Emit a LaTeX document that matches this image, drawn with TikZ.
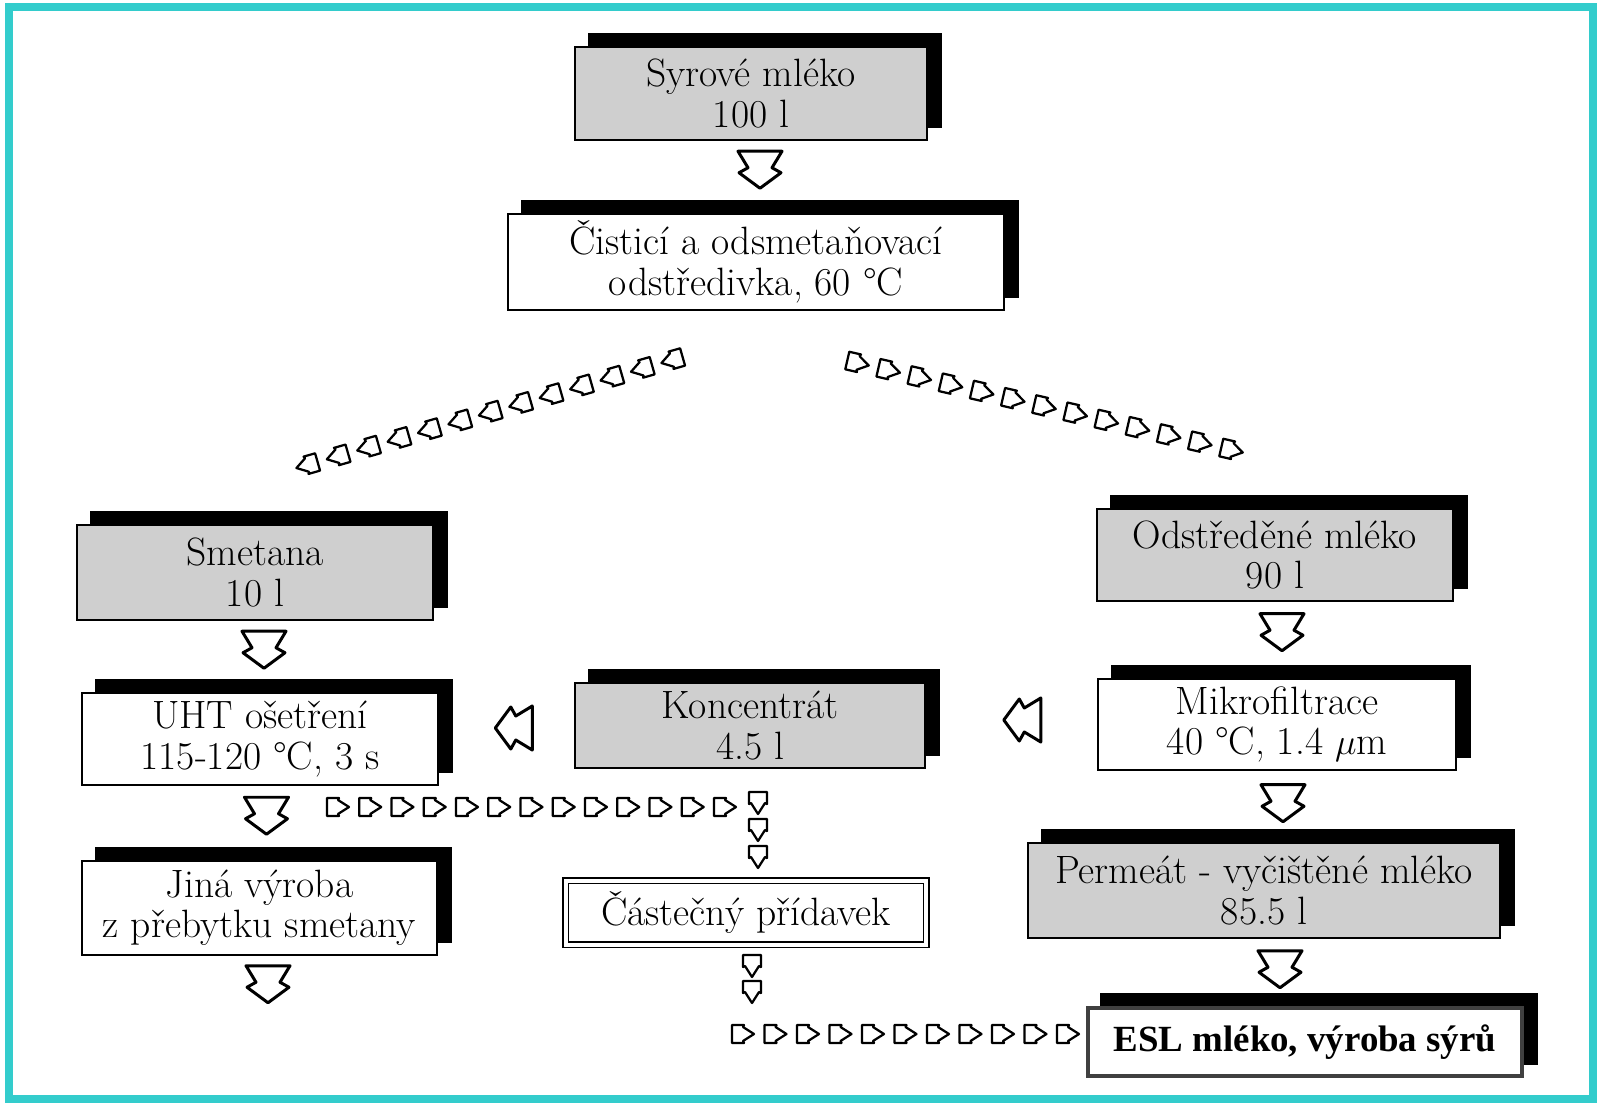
\documentclass[tikz,border=0pt]{standalone}
\usepackage{fontspec}
\newfontfamily\eslfont{Liberation Serif}
\usetikzlibrary{calc,shadows}
\definecolor{frameteal}{RGB}{51,204,204}
\definecolor{dotgray}{gray}{0.81}
\definecolor{eslgray}{gray}{0.25}
\tikzset{
  box/.style={draw, line width=0.5mm, fill=white, align=center, inner sep=0pt,
    font=\fontsize{22.5}{23}\selectfont,
    general shadow={fill=black, draw=black, shadow xshift=2.8mm, shadow yshift=2.6mm}},
  dotbox/.style={box, fill=dotgray},
  bigarrow/.pic={\draw[line width=0.6mm, line join=round]
    (-22,-18.5) -- (-12,-2) -- (-21,3) -- (0,18.5) -- (21,3) -- (12,-2) -- (22,-18.5) -- cycle;},
  smallarrow/.pic={\draw[line width=0.45mm, line join=round]
    (-11,-9) -- (1,-9) -- (0,-7) -- (11,0) -- (0,7) -- (1,9) -- (-11,9) -- cycle;}
}
\begin{document}
\begin{tikzpicture}[x=0.02cm, y=-0.02cm]
\useasboundingbox (0,0) rectangle (1602,1105);
\draw[frameteal, line width=1.6mm] (9,7) rectangle (1593,1099);

% boxes
\node[dotbox, minimum width=70.4mm, minimum height=18.6mm] (raw) at (751,93.5) {Syrové mléko\\100 l};
\node[box, minimum width=99.2mm, minimum height=19.2mm] (sep) at (756,262) {Čisticí a odsmetaňovací\\odstředivka, 60 °C};
\node[dotbox, minimum width=71.2mm, minimum height=19mm] (cream) at (255,572.5) {Smetana\\10 l};
\node[dotbox, minimum width=71.2mm, minimum height=18.4mm] (skim) at (1275,555) {Odstředěné mléko\\90 l};
\node[box, minimum width=71.2mm, minimum height=18.4mm] (uht) at (260,739) {UHT ošetření\\115-120 °C, 3 s};
\node[dotbox, minimum width=70mm, minimum height=17mm] (conc) at (750,725.5) {Koncentrát\\4.5 l};
\node[box, minimum width=71.6mm, minimum height=18.2mm] (mf) at (1277,724.5) {Mikrofiltrace\\40 °C, 1.4 $\mu$m};
\node[box, minimum width=71mm, minimum height=18.8mm] (other) at (259.5,908) {Jiná výroba\\z přebytku smetany};
\node[draw, double, line width=0.3mm, double distance=0.8mm, fill=white, inner sep=0pt,
  font=\fontsize{22.5}{23}\selectfont, minimum width=72.2mm, minimum height=12.8mm] (part) at (746,912.5) {Částečný přídavek};
\node[dotbox, minimum width=94.4mm, minimum height=19mm] (perm) at (1264,890.5) {Permeát - vyčištěné mléko\\85.5 l};
\node[box, draw=eslgray, line width=0.9mm, minimum width=86.8mm, minimum height=13.6mm,
  font=\eslfont\bfseries\fontsize{21}{22}\selectfont] (esl) at (1305,1042) {ESL mléko, výroba sýrů};

% big arrows
\pic at ($(raw.south)+(9,28.5)$) {bigarrow};
\pic at ($(cream.south)+(9,28.5)$) {bigarrow};
\pic at ($(uht.south)+(6.5,29.5)$) {bigarrow};
\pic at ($(other.south)+(8.5,28)$) {bigarrow};
\pic at ($(skim.south)+(7,30)$) {bigarrow};
\pic at ($(mf.south)+(6,32)$) {bigarrow};
\pic at ($(perm.south)+(16,30)$) {bigarrow};
\pic[rotate=-90] at ($(conc.west)+(-60,2.5)$) {bigarrow};
\pic[rotate=-90] at ($(mf.west)+(-74.5,-4.5)$) {bigarrow};

% chains of small arrows
\coordinate (d1) at (672,360);
\coordinate (d2) at (307,465);
\coordinate (e1) at (858,363);
\coordinate (e2) at (1232,450);
\coordinate (h1) at (338,807);
\coordinate (h2) at (725,807);
\coordinate (g1) at (743,1034);
\coordinate (g2) at (1068,1034);
\foreach \k in {0,...,12} \pic[rotate=196] at ($(d1)!{\k/12}!(d2)$) {smallarrow};
\foreach \k in {0,...,12} \pic[rotate=-13] at ($(e1)!{\k/12}!(e2)$) {smallarrow};
\foreach \k in {0,...,12} \pic at ($(h1)!{\k/12}!(h2)$) {smallarrow};
\foreach \y in {803,830,857} \pic[rotate=-90] at (758,\y) {smallarrow};
\foreach \y in {966,992} \pic[rotate=-90] at (752,\y) {smallarrow};
\foreach \k in {0,...,10} \pic at ($(g1)!{\k/10}!(g2)$) {smallarrow};
\end{tikzpicture}
\end{document}
